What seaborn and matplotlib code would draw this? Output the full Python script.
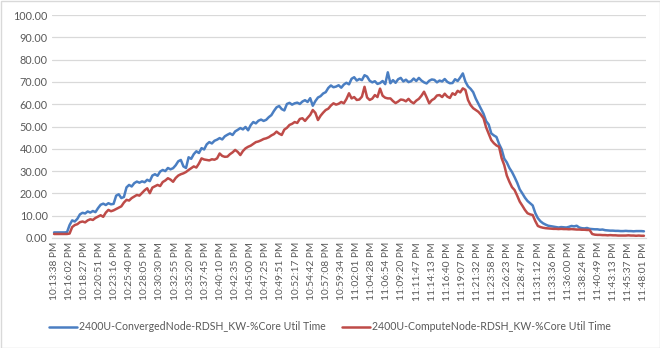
import numpy as np
import pandas as pd
import matplotlib
matplotlib.use("Agg")
import matplotlib.pyplot as plt
import seaborn as sns
from matplotlib.lines import Line2D

time_labels = [
    "10:13:38 PM", "10:16:02 PM", "10:18:27 PM", "10:20:51 PM", "10:23:16 PM",
    "10:25:40 PM", "10:28:05 PM", "10:30:30 PM", "10:32:55 PM", "10:35:20 PM",
    "10:37:45 PM", "10:40:10 PM", "10:42:35 PM", "10:45:00 PM", "10:47:25 PM",
    "10:49:51 PM", "10:52:17 PM", "10:54:42 PM", "10:57:08 PM", "10:59:34 PM",
    "11:02:01 PM", "11:04:28 PM", "11:06:54 PM", "11:09:20 PM", "11:11:47 PM",
    "11:14:13 PM", "11:16:40 PM", "11:19:07 PM", "11:21:32 PM", "11:23:58 PM",
    "11:26:23 PM", "11:28:47 PM", "11:31:12 PM", "11:33:36 PM", "11:36:00 PM",
    "11:38:24 PM", "11:40:49 PM", "11:43:13 PM", "11:45:37 PM", "11:48:01 PM",
]

series_names = [
    "2400U-ConvergedNode-RDSH_KW-%Core Util Time",
    "2400U-ComputeNode-RDSH_KW-%Core Util Time",
]

converged = [
    2.5, 2.5, 2.5, 2.5, 2.5, 2.6, 5.8, 7.9, 7.4, 8.6,
    10.6, 11.3, 11.0, 11.9, 11.4, 12.1, 11.6, 13.4, 14.9, 15.4,
    14.8, 15.6, 15.1, 15.3, 19.0, 19.6, 17.9, 18.4, 22.7, 23.8,
    23.1, 24.6, 25.3, 24.8, 25.4, 25.0, 26.1, 25.5, 28.0, 28.6,
    27.9, 29.8, 30.5, 30.0, 31.4, 30.8, 31.3, 32.6, 34.4, 35.0,
    32.1, 31.4, 36.2, 35.5, 37.6, 38.9, 38.1, 40.3, 39.7, 42.0,
    43.0, 42.4, 43.6, 44.1, 44.8, 44.2, 45.6, 46.3, 46.9, 46.2,
    47.8, 48.5, 49.3, 48.7, 49.8, 48.3, 50.6, 52.0, 51.4, 52.6,
    53.1, 52.5, 53.0, 54.2, 55.1, 57.0, 58.6, 59.2, 57.8, 57.2,
    60.1, 60.6, 59.8, 60.4, 60.7, 60.1, 61.2, 61.8, 61.0, 62.7,
    59.3, 61.4, 63.0, 63.6, 64.8, 65.4, 67.3, 68.4, 67.6, 67.9,
    68.5, 67.4, 68.8, 69.6, 68.9, 71.4, 72.1, 70.6, 71.3, 70.8,
    73.0, 72.4, 70.5, 69.8, 70.3, 69.1, 69.5, 70.4, 69.0, 74.3,
    69.4, 70.8, 69.6, 71.2, 71.8, 70.2, 71.0, 69.9, 70.3, 71.5,
    70.4, 71.8, 70.6, 69.8, 69.3, 70.5, 71.1, 70.9, 69.8, 70.6,
    70.2, 71.3, 70.0, 69.4, 69.5, 71.2, 70.4, 72.0, 73.8, 70.1,
    68.0, 66.9, 65.4, 62.5, 60.2, 57.8, 55.7, 52.4, 50.9, 46.9,
    46.0, 45.3, 42.2, 39.8, 35.6, 33.9, 31.4, 29.6, 27.3, 24.8,
    21.8, 20.0, 18.1, 16.6, 15.6, 14.6, 11.2, 8.9, 7.5, 6.6,
    6.0, 5.5, 5.3, 5.1, 4.9, 4.7, 4.9, 4.8, 4.7, 5.0,
    5.4, 5.2, 5.5, 4.7, 4.4, 4.3, 4.5, 4.1, 4.0, 3.9,
    3.9, 3.7, 3.8, 3.5, 3.4, 3.3, 3.3, 3.2, 3.2, 3.1,
    3.1, 3.2, 3.1, 3.1, 3.0, 3.1, 3.1, 3.1, 3.0,
]

compute = [
    1.8, 1.8, 1.8, 1.8, 1.8, 1.8, 2.0, 4.9, 5.8, 6.2,
    7.1, 7.4, 7.0, 7.9, 8.4, 8.1, 9.0, 9.6, 10.2, 9.5,
    11.4, 12.6, 12.0, 12.4, 13.0, 13.6, 14.2, 15.9, 17.1, 16.8,
    17.9, 18.6, 19.3, 19.0, 20.2, 21.4, 22.3, 20.1, 22.6, 23.2,
    23.8, 23.3, 25.1, 25.8, 26.8, 26.2, 25.2, 26.9, 28.0, 28.6,
    29.0, 29.6, 30.5, 31.3, 32.1, 31.6, 33.4, 35.7, 35.2, 35.0,
    34.8, 35.3, 35.1, 35.7, 37.9, 36.8, 36.4, 36.5, 37.6, 38.4,
    39.5, 38.6, 37.2, 39.0, 40.2, 40.9, 41.4, 42.2, 43.0, 43.3,
    43.8, 44.4, 44.7, 45.2, 46.0, 46.6, 47.7, 46.8, 46.2, 48.6,
    49.4, 50.7, 51.2, 52.0, 51.6, 53.4, 53.7, 52.5, 53.9, 55.2,
    57.4, 56.1, 52.9, 54.8, 56.2, 57.4, 58.0, 59.4, 60.4, 59.8,
    60.2, 61.0, 60.4, 62.3, 64.9, 62.6, 63.2, 61.9, 62.1, 63.4,
    67.8, 63.0, 61.9, 62.5, 64.1, 63.2, 67.0, 63.8, 62.9, 62.6,
    62.6, 61.4, 60.5, 61.2, 62.1, 61.9, 61.3, 62.4, 61.1, 60.4,
    61.6, 62.4, 63.8, 65.6, 63.1, 60.4, 61.8, 62.5, 63.9, 64.1,
    63.2, 64.7, 63.4, 62.8, 64.9, 64.2, 66.0, 65.3, 67.1, 66.4,
    61.9, 59.6, 58.2, 57.4, 56.6, 55.3, 53.7, 49.6, 46.8, 43.9,
    42.5, 41.5, 40.9, 35.8, 32.7, 28.0, 25.2, 22.8, 21.5, 19.0,
    16.3, 14.5, 12.6, 11.1, 10.6, 10.3, 7.6, 5.4, 4.9, 4.6,
    4.4, 4.3, 4.2, 4.1, 4.1, 4.0, 4.1, 4.0, 4.0, 3.9,
    4.0, 3.9, 3.8, 3.8, 3.7, 3.7, 3.6, 3.6, 1.8, 1.5,
    1.4, 1.4, 1.3, 1.3, 1.2, 1.3, 1.2, 1.2, 1.1, 1.1,
    1.1, 1.1, 1.2, 1.1, 1.1, 1.0, 1.1, 1.0, 1.0,
]

colors = ["#4A7EC2", "#BE4B48"]

n = len(converged)
df = pd.DataFrame({
    "sample": list(range(n)) * 2,
    "value": converged + compute,
    "series": [series_names[0]] * n + [series_names[1]] * n,
})

sns.set_theme(style="white")
plt.rcParams["font.family"] = ["Lato", "DejaVu Sans"]

fig = plt.figure(figsize=(6.6, 3.48), dpi=100)
ax = fig.add_axes([52 / 660, 1 - 238 / 348, (646 - 52) / 660, (238 - 15) / 348])

sns.lineplot(data=df, x="sample", y="value", hue="series", palette=colors,
             linewidth=1.8, ax=ax, legend=False)

ax.set_xlim(-0.8, n - 1 + 0.8)
ax.set_ylim(0, 100)
ax.set_yticks(np.arange(0, 101, 10))
ax.set_yticklabels([f"{v:.2f}" for v in np.arange(0, 101, 10)],
                   fontsize=7.8, color="#595959")
ax.set_xticks(np.linspace(0, n - 1, len(time_labels)))
ax.set_xticklabels(time_labels, rotation=90, fontsize=7.3, color="#595959")
ax.tick_params(axis="both", length=0, pad=3)
ax.set_xlabel("")
ax.set_ylabel("")
ax.grid(axis="y", color="#D9D9D9", linewidth=0.9)
ax.set_axisbelow(True)
for s in ["top", "right", "left"]:
    ax.spines[s].set_visible(False)
ax.spines["bottom"].set_color("#D9D9D9")
ax.spines["bottom"].set_linewidth(0.9)

handles = [Line2D([0], [0], color=c, linewidth=1.8) for c in colors]
fig.legend(handles, series_names, loc="center", bbox_to_anchor=(0.5, 1 - 327 / 348),
           ncol=2, frameon=False, fontsize=7.6, handlelength=2.6, handletextpad=0.2,
           columnspacing=1.6, labelcolor="#595959")

fig.patches.append(plt.Rectangle((0.5 / 660, 0.5 / 348), 659 / 660, 347 / 348,
                                 transform=fig.transFigure, fill=False,
                                 edgecolor="#D9D9D9", linewidth=1))

fig.savefig("out.png", dpi=100, facecolor="white")
